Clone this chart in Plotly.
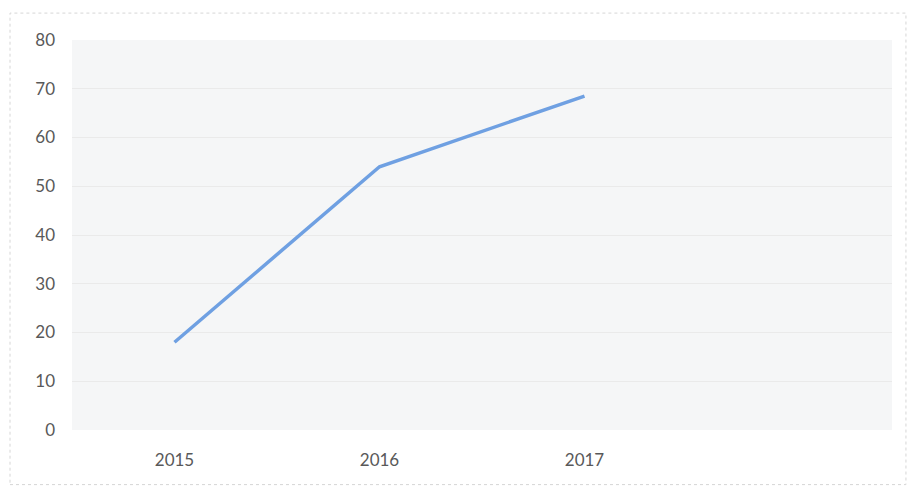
import plotly.graph_objects as go

categories = ["2015", "2016", "2017", " "]
years = ["2015", "2016", "2017"]
values = [18, 54, 68.5]
y_ticks = [0, 10, 20, 30, 40, 50, 60, 70, 80]

fig = go.Figure()
fig.add_trace(go.Scatter(
    x=years, y=values, mode="lines",
    line=dict(color="#6fa0e2", width=3.5),
    hoverinfo="skip", showlegend=False,
))

font = dict(family="Lato, 'Open Sans', sans-serif", size=17, color="#595959")

fig.update_layout(
    width=908, height=488,
    margin=dict(l=72, r=16, t=40, b=58),
    paper_bgcolor="white",
    plot_bgcolor="#f5f6f7",
    font=font,
    xaxis=dict(
        type="category", categoryorder="array", categoryarray=categories,
        range=[-0.5, 3.5], showgrid=False, zeroline=False, showline=False,
        tickvals=years, ticks="", ticklabelstandoff=18, tickfont=font,
    ),
    yaxis=dict(
        range=[0, 80], tickvals=y_ticks, showgrid=True, gridcolor="#eaeaea",
        gridwidth=1, zeroline=False, showline=False, ticks="",
        ticklabelstandoff=16, tickfont=font,
    ),
    shapes=[dict(
        type="rect", xref="paper", yref="paper",
        x0=-0.0756, x1=1.017, y0=-0.14, y1=1.069,
        line=dict(color="#d6d6d6", width=1, dash="dot"),
        layer="below",
    )],
)

fig.write_html("out.html")
